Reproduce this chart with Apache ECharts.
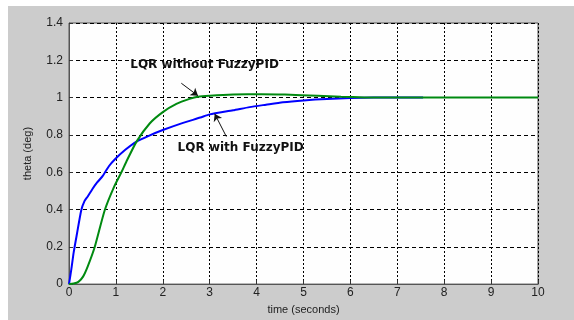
<!DOCTYPE html>
<html><head><meta charset="utf-8">
<script src="https://cdn.jsdelivr.net/npm/echarts@6/dist/echarts.min.js"></script>
<style>html,body{margin:0;padding:0;background:#fff}#c{width:574px;height:320px}</style>
</head><body><div id="c"></div>
<script>
// time (s) and theta (deg)
var blueT = [0,0.05,0.1,0.17,0.26,0.33,0.4,0.5,0.6,0.72,0.85,0.97,1.2,1.44,1.7,2.0,2.4,2.8,3.0,3.5,3.85,4.2,4.56,5.0,5.5,6.0,6.5,7.0,7.55];
var blueY = [0,0.08,0.17,0.27,0.395,0.445,0.47,0.51,0.545,0.58,0.632,0.667,0.72,0.764,0.795,0.826,0.862,0.893,0.91,0.932,0.949,0.962,0.975,0.985,0.993,0.998,1.0,1.0,1.0];
var greenT = [0,0.1,0.2,0.3,0.4,0.55,0.76,0.97,1.12,1.22,1.44,1.72,2.0,2.29,2.57,2.75,3.0,3.5,4.1,4.6,5.3,5.8,6.3,7,8,9,10];
var greenY = [0,0.003,0.012,0.04,0.095,0.2,0.395,0.527,0.601,0.655,0.764,0.861,0.922,0.966,0.993,1.005,1.01,1.016,1.018,1.016,1.01,1.005,1.001,1.0,1.0,1.0,1.0];
var labelWithout = 'LQR without FuzzyPID';
var labelWith = 'LQR with FuzzyPID';
var annWithoutText = [2.89, 1.178];
var annWithText = [3.66, 0.729];
var arrowWithout = [[2.395, 1.077],[2.75, 1.010]];
var arrowWith = [[3.355, 0.791],[3.107, 0.913]];
var xTitle = 'time (seconds)';
var yTitle = 'theta (deg)';

function zip(a,b){return a.map(function(v,i){return [v,b[i]];});}
var chart = echarts.init(document.getElementById('c'));
var font = 'Liberation Sans, Arial, sans-serif';
chart.setOption({
  animation:false,
  graphic:[{type:'rect',shape:{x:8,y:6,width:566,height:314},style:{fill:'#cccccc'},z:-10,silent:true}],
  grid:{left:69,top:23,right:36,bottom:32,show:true,backgroundColor:'#fefefe',borderColor:'#555',borderWidth:1},
  xAxis:{type:'value',min:0,max:10,interval:1,
    name:xTitle,nameLocation:'middle',nameGap:14,nameTextStyle:{fontFamily:font,fontSize:11,color:'#222'},
    axisLine:{lineStyle:{color:'#555'}},axisTick:{inside:true,length:4,lineStyle:{color:'#333'}},
    axisLabel:{fontFamily:font,fontSize:12,color:'#222',margin:3},
    splitLine:{show:true,lineStyle:{color:'#000',type:[2,2],width:1}}},
  yAxis:{type:'value',min:0,max:1.4,interval:0.2,
    name:yTitle,nameLocation:'middle',nameGap:36,nameTextStyle:{fontFamily:font,fontSize:11,color:'#222'},
    axisLine:{lineStyle:{color:'#555'}},axisTick:{inside:true,length:4,lineStyle:{color:'#333'}},
    axisLabel:{fontFamily:font,fontSize:12,color:'#222',margin:6},
    splitLine:{show:true,lineStyle:{color:'#000',type:[4,3],width:1}}},
  series:[
    {type:'line',data:zip(blueT,blueY),showSymbol:false,smooth:0.2,lineStyle:{color:'#0000ff',width:2},z:2},
    {type:'line',data:zip(greenT,greenY),showSymbol:false,smooth:0.2,lineStyle:{color:'#008a10',width:2},z:3,
     markLine:{silent:true,symbol:['none','arrow'],symbolSize:7,label:{show:false},
       lineStyle:{color:'#111',width:1,type:'solid'},
       data:[[{coord:arrowWithout[0]},{coord:arrowWithout[1]}],[{coord:arrowWith[0]},{coord:arrowWith[1]}]]},
     markPoint:{silent:true,symbol:'circle',symbolSize:0,
       label:{show:true,position:'inside',fontFamily:'DejaVu Sans, sans-serif',fontSize:12,fontWeight:'bold',color:'#111',formatter:'{b}'},
       data:[{name:labelWithout,coord:annWithoutText},{name:labelWith,coord:annWithText}]}}
  ]
});
</script></body></html>
